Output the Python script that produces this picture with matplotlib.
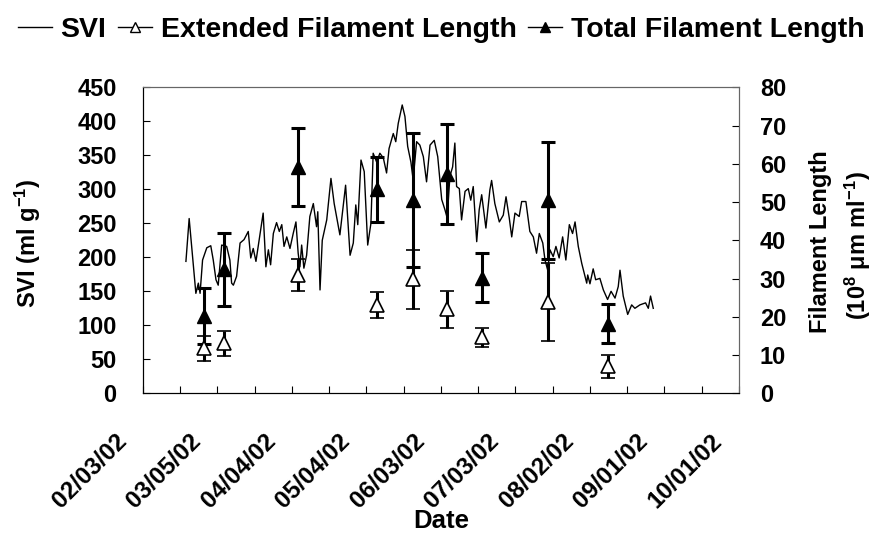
import matplotlib
matplotlib.use('Agg')
import matplotlib.pyplot as plt
import matplotlib.transforms as mtransforms
from matplotlib.lines import Line2D

# SVI (days after 02/03/02)
svi_day = [17.3, 18.6, 21.3, 22.3, 23.0, 24.0, 25.7, 27.3, 28.3, 29.4,
           30.3, 31.7, 33.7, 35.0, 35.7, 36.4, 37.7, 39.1, 40.7, 42.4,
           43.4, 44.4, 45.5, 46.8, 48.4, 49.5, 50.5, 51.4, 52.5, 53.8,
           54.9, 55.9, 56.8, 57.9, 59.2, 60.5, 61.6, 62.5, 63.2, 63.9,
           64.8, 65.9, 67.2, 68.6, 69.9, 70.4, 71.3, 72.2, 74.0, 75.7,
           77.0, 79.3, 81.6, 83.4, 84.7, 85.7, 86.5, 87.8, 89.1, 90.5,
           91.8, 92.7, 94.1, 95.4, 96.8, 98.1, 99.1, 100.8, 101.8, 102.8,
           104.4, 105.5, 106.6, 107.9, 108.8, 110.2, 111.5, 112.9, 114.2, 115.6,
           117.3, 118.7, 120.3, 121.6, 122.5, 123.6, 124.7, 125.6, 126.3, 127.4,
           128.3, 129.7, 131.0, 132.0, 133.0, 134.4, 135.4, 136.4, 138.1, 139.7,
           140.4, 141.7, 143.5, 145.1, 146.2, 147.5, 148.5, 149.8, 151.5, 152.5,
           154.2, 155.8, 157.2, 158.5, 159.6, 161.0, 161.9, 163.0, 163.9, 165.2,
           166.3, 167.6, 169.0, 170.3, 171.7, 173.0, 174.0, 175.3, 176.7, 178.7,
           179.1, 180.0, 181.3, 182.3, 184.0, 185.4, 187.1, 188.5, 190.1, 191.4,
           192.1, 193.4, 195.2, 196.8, 198.1, 200.1, 202.4, 203.5, 204.4, 205.5]
svi = [194, 257, 147, 162, 147, 196, 214, 217, 196, 167,
       159, 218, 216, 196, 162, 159, 172, 221, 226, 238,
       199, 213, 194, 226, 265, 186, 211, 189, 235, 251,
       238, 248, 216, 230, 213, 235, 252, 206, 186, 218,
       184, 203, 260, 279, 245, 267, 152, 225, 255, 316,
       279, 233, 306, 203, 221, 277, 248, 343, 326, 218,
       250, 353, 340, 353, 346, 324, 360, 382, 370, 397,
       424, 407, 363, 340, 314, 370, 365, 348, 311, 365,
       372, 348, 285, 270, 258, 319, 333, 368, 304, 301,
       255, 297, 301, 284, 304, 223, 270, 292, 243, 299,
       313, 279, 252, 262, 289, 258, 230, 265, 260, 282,
       282, 238, 230, 206, 235, 221, 196, 181, 211, 201,
       216, 199, 230, 196, 248, 235, 252, 216, 191, 162,
       174, 161, 183, 167, 169, 152, 138, 150, 140, 157,
       181, 143, 116, 130, 125, 130, 133, 125, 143, 125]

# filament sampling days and lengths (10^8 um/ml)
fil_day = [24.6, 32.7, 62.5, 94.3, 108.6, 122.3, 136.6, 163.2, 187.4]
total = [20.2, 32.4, 59.2, 53.3, 50.5, 57.3, 30.2, 50.5, 18.2]
total_err = [7.2, 9.6, 10.2, 8.4, 17.5, 13.1, 6.4, 15.3, 5.1]
ext = [11.8, 13.1, 31.0, 23.0, 29.8, 22.0, 14.7, 23.8, 7.1]
ext_err = [3.3, 3.3, 4.2, 3.4, 7.7, 4.8, 2.5, 10.2, 3.0]

date_labels = ['02/03/02', '03/05/02', '04/04/02', '05/04/02', '06/03/02',
               '07/03/02', '08/02/02', '09/01/02', '10/01/02']

plt.rcParams['font.family'] = ['Liberation Sans', 'DejaVu Sans']
plt.rcParams['font.weight'] = 'bold'
plt.rcParams['mathtext.fontset'] = 'custom'
plt.rcParams['mathtext.rm'] = 'Liberation Sans:bold'
plt.rcParams['mathtext.it'] = 'Liberation Sans:bold'
plt.rcParams['mathtext.bf'] = 'Liberation Sans:bold'
plt.rcParams['mathtext.default'] = 'rm'

fig = plt.figure(figsize=(8.82, 5.5), dpi=100)
ax = fig.add_axes([0.1621, 0.2849, 0.6757, 0.5564])
ax2 = ax.twinx()

ax.plot(svi_day, svi, color='black', lw=1.0, zorder=3)
ax2.errorbar(fil_day, total, yerr=total_err, fmt='^', color='black',
             ms=10, elinewidth=2.2, capsize=5, capthick=2.2)
ax2.errorbar(fil_day, ext, yerr=ext_err, fmt='^', mfc='white', mec='black',
             ecolor='black', ms=10, mew=1.2, elinewidth=2.2, capsize=5,
             capthick=2.2)

ax.set_xlim(0, 240)
ax.set_ylim(0, 450)
ax2.set_ylim(0, 80)
ax.set_yticks(range(0, 451, 50))
ax2.set_yticks(range(0, 81, 10))
ax.set_xticks(range(0, 241, 30))
ax.set_xticks(range(15, 241, 30), minor=True)
ax.set_xticklabels(date_labels, rotation=45, ha='right')

ax.tick_params(axis='y', direction='in', length=5, width=0.8, labelsize=17, pad=19)
ax2.tick_params(axis='y', direction='in', length=5, width=0.8, labelsize=17, pad=15)
ax.tick_params(axis='x', which='both', direction='in', length=5, width=0.8,
               labelsize=17.5, pad=26)

shift = mtransforms.ScaledTranslation(-12 / 100, 0, fig.dpi_scale_trans)
for lab in ax.get_xticklabels():
    lab.set_transform(lab.get_transform() + shift)

for a in (ax, ax2):
    for s in a.spines.values():
        s.set_linewidth(0.8)
    a.spines['top'].set_color('#666666')
    a.spines['right'].set_color('#666666')

fig.text(0.032, 0.558, 'SVI (ml g$^{-1}$)', rotation=90, ha='center',
         va='center', fontsize=17)
fig.text(0.930, 0.56, 'Filament Length', rotation=90, ha='center',
         va='center', fontsize=17)
fig.text(0.973, 0.553, '(10$^{8}$ μm ml$^{-1}$)', rotation=90, ha='center',
         va='center', fontsize=17)
fig.text(0.5, 0.052, 'Date', ha='center', va='center', fontsize=18.5)

handles = [Line2D([], [], color='black', lw=1),
           Line2D([], [], color='black', lw=1, marker='^', mfc='white',
                  mec='black', ms=7),
           Line2D([], [], color='black', lw=1, marker='^', ms=7)]
fig.legend(handles, ['SVI', 'Extended Filament Length', 'Total Filament Length'],
           loc='center', bbox_to_anchor=(0.5, 0.945), ncol=3, frameon=False,
           fontsize=20.5, handlelength=1.2, handletextpad=0.3, columnspacing=0.4,
           borderaxespad=0)

fig.savefig('out.png', dpi=100)
